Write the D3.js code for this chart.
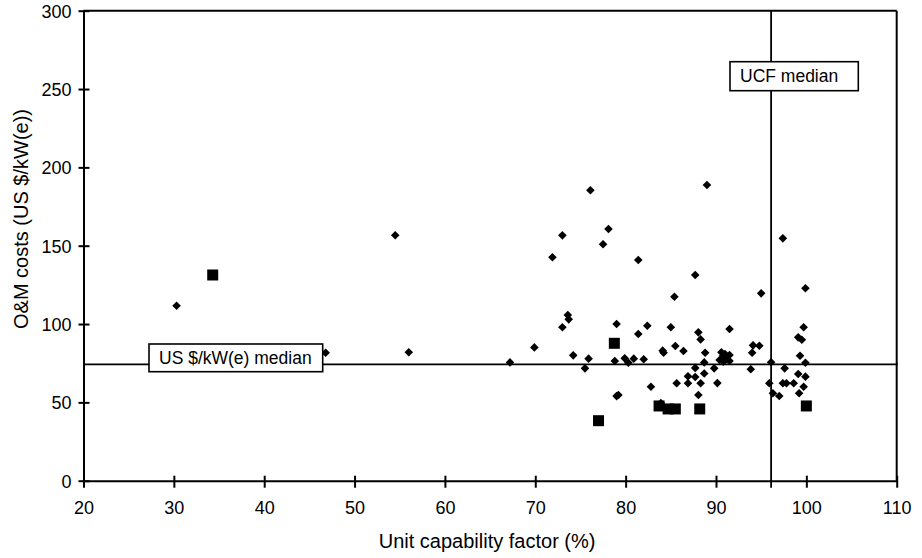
<!DOCTYPE html>
<html>
<head>
<meta charset="utf-8">
<script src="https://cdn.jsdelivr.net/npm/d3@7"></script>
<style>
    html, body { margin: 0; padding: 0; background: #fff; }
    svg { display: block; font-family: "Liberation Sans", Arial, Helvetica, sans-serif; }
</style>
</head>
<body>
<div id="chart"></div>
<script>
// unit capability factor (%) vs O&M cost (US $/kW(e)), one diamond per unit
const diamondX = [
    30.3, 46.8, 54.5, 56.0, 67.2,
    76.1, 89.0, 78.1, 73.0, 77.5, 71.9, 81.4, 87.7, 85.4, 97.4, 99.9, 95.0,
    73.6, 73.7, 73.0, 79.0, 82.4, 81.4, 85.0, 88.05, 88.3, 91.5, 69.9, 99.7, 99.1, 99.5, 94.1, 94.8, 94.0,
    74.2, 75.9, 75.5, 78.8, 79.9, 80.3, 80.9, 82.0, 84.1, 84.2, 85.5, 86.4, 88.8, 88.7, 87.7, 89.8,
    90.4, 90.6, 90.8, 91.0, 91.2, 91.5, 91.5, 90.8,
    96.1, 93.85, 97.6, 99.3, 99.9, 99.1, 99.9,
    86.9, 87.7, 86.9, 88.3, 88.7, 85.65, 82.8, 88.05, 90.15, 79.0, 79.2, 83.9,
    95.9, 97.4, 97.8, 98.6, 99.7, 96.3, 97.0, 99.2
];
const diamondY = [
    111.7, 81.7, 156.7, 82.0, 75.5,
    185.4, 188.7, 160.7, 156.6, 150.9, 142.6, 140.9, 131.3, 117.4, 154.7, 122.8, 119.6,
    105.8, 103.0, 97.9, 100.0, 98.9, 93.6, 97.9, 94.7, 90.2, 96.8, 85.1, 97.9, 91.5, 90.0, 86.4, 86.1, 81.7,
    80.0, 77.9, 71.7, 76.4, 78.1, 75.3, 77.9, 77.5, 83.0, 81.7, 86.0, 82.8, 81.7, 75.5, 72.0, 71.7,
    77.0, 82.0, 79.8, 80.8, 77.5, 80.2, 76.4, 76.0,
    75.6, 71.1, 71.7, 79.8, 75.3, 68.1, 66.4,
    66.6, 66.2, 62.2, 62.2, 68.4, 62.2, 60.0, 54.7, 62.3, 54.0, 54.7, 49.6,
    62.2, 62.2, 62.2, 62.2, 60.0, 55.8, 54.1, 55.8
];

// highlighted units, drawn as squares
const squareX = [34.3, 78.75, 77.0, 83.7, 84.7, 85.5, 88.2, 100.0];
const squareY = [131.3, 87.7, 38.3, 47.7, 45.8, 45.8, 45.8, 47.7];

const ucfMedian = 96.1;
const costMedian = 74.3;

const xTicks = [20, 30, 40, 50, 60, 70, 80, 90, 100, 110];
const yTicks = [0, 50, 100, 150, 200, 250, 300];

const width = 922;
const height = 558;
const margin = { top: 10.7, right: 25.3, bottom: 77.3, left: 83.5 };
const innerWidth = width - margin.left - margin.right;
const innerHeight = height - margin.top - margin.bottom;

const svg = d3.select('#chart')
    .append('svg')
    .attr('width', width)
    .attr('height', height);

const chartGroup = svg.append('g')
    .attr('transform', `translate(${margin.left},${margin.top})`);

const xScale = d3.scaleLinear().domain([20, 110]).range([0, innerWidth]);
const yScale = d3.scaleLinear().domain([0, 300]).range([innerHeight, 0]);

// frame: top and right edges of the plot area
chartGroup.append('line')
    .attr('x1', xScale(20)).attr('x2', xScale(110))
    .attr('y1', yScale(300)).attr('y2', yScale(300))
    .attr('stroke', '#000').attr('stroke-width', 2);

chartGroup.append('line')
    .attr('x1', xScale(110)).attr('x2', xScale(110))
    .attr('y1', yScale(300)).attr('y2', yScale(0))
    .attr('stroke', '#000').attr('stroke-width', 2);

// median lines
chartGroup.append('line')
    .attr('x1', xScale(20)).attr('x2', xScale(110) + 1)
    .attr('y1', yScale(costMedian)).attr('y2', yScale(costMedian))
    .attr('stroke', '#000').attr('stroke-width', 1.8);

chartGroup.append('line')
    .attr('x1', xScale(ucfMedian)).attr('x2', xScale(ucfMedian))
    .attr('y1', yScale(300)).attr('y2', yScale(0) + 7)
    .attr('stroke', '#000').attr('stroke-width', 1.8);

// axes
chartGroup.append('g')
    .attr('transform', `translate(0,${innerHeight})`)
    .call(d3.axisBottom(xScale).tickValues(xTicks).tickSizeOuter(0).tickFormat(d3.format('d')))
    .call((group) => group.select('.domain').attr('stroke', '#000').attr('stroke-width', 2))
    .call((group) => group.selectAll('.tick line')
        .attr('y1', -5).attr('y2', 7)
        .attr('stroke', '#000').attr('stroke-width', 2))
    .call((group) => group.selectAll('.tick text')
        .attr('y', 33).attr('dy', 0)
        .attr('fill', '#000')
        .attr('font-size', 18)
        .attr('font-family', '"Liberation Sans", Arial, sans-serif'));

chartGroup.append('g')
    .call(d3.axisLeft(yScale).tickValues(yTicks).tickSizeOuter(0))
    .call((group) => group.select('.domain').attr('stroke', '#000').attr('stroke-width', 2))
    .call((group) => group.selectAll('.tick line')
        .attr('x1', -5).attr('x2', 6)
        .attr('stroke', '#000').attr('stroke-width', 2))
    .call((group) => group.selectAll('.tick text')
        .attr('x', -12).attr('dy', '0.35em')
        .attr('fill', '#000')
        .attr('font-size', 18)
        .attr('font-family', '"Liberation Sans", Arial, sans-serif'));

// points
const diamonds = diamondX.map((value, index) => ({ x: value, y: diamondY[index] }));
const squares = squareX.map((value, index) => ({ x: value, y: squareY[index] }));

chartGroup.selectAll('.diamond')
    .data(diamonds)
    .enter()
    .append('path')
    .attr('class', 'diamond')
    .attr('d', 'M0,-4.3L4.3,0L0,4.3L-4.3,0Z')
    .attr('transform', (datum) => `translate(${xScale(datum.x)},${yScale(datum.y)})`)
    .attr('fill', '#000');

chartGroup.selectAll('.square')
    .data(squares)
    .enter()
    .append('rect')
    .attr('class', 'square')
    .attr('x', (datum) => xScale(datum.x) - 5.5)
    .attr('y', (datum) => yScale(datum.y) - 5.5)
    .attr('width', 11)
    .attr('height', 11)
    .attr('fill', '#000');

// median labels
function addLabel(text, left, top, boxWidth, boxHeight) {
    const label = svg.append('g').attr('transform', `translate(${left},${top})`);
    label.append('rect')
        .attr('width', boxWidth)
        .attr('height', boxHeight)
        .attr('fill', '#fff')
        .attr('stroke', '#000')
        .attr('stroke-width', 1.6);
    label.append('text')
        .attr('x', 10)
        .attr('y', boxHeight / 2)
        .attr('dy', '0.36em')
        .attr('font-size', 17.5)
        .attr('fill', '#000')
        .text(text);
}

addLabel('UCF median', 730, 61.7, 128.3, 29);
addLabel('US $/kW(e) median', 149, 344, 173.7, 27.7);

// axis titles
svg.append('text')
    .attr('x', margin.left + innerWidth / 2 - 3)
    .attr('y', 548)
    .attr('text-anchor', 'middle')
    .attr('font-size', 20)
    .attr('fill', '#000')
    .text('Unit capability factor (%)');

svg.append('text')
    .attr('transform', 'translate(28,219) rotate(-90)')
    .attr('text-anchor', 'middle')
    .attr('font-size', 20)
    .attr('fill', '#000')
    .text('O&M costs (US $/kW(e))');
</script>
</body>
</html>
